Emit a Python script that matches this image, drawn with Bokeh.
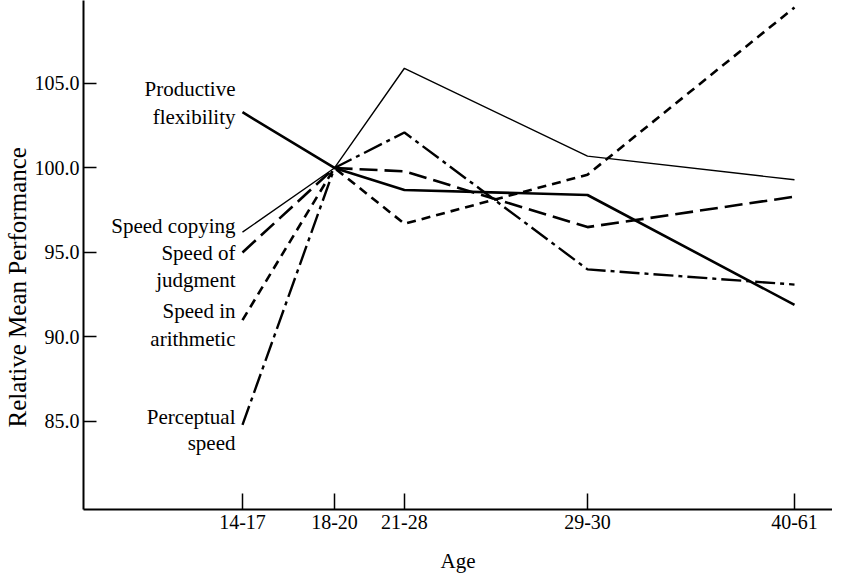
from bokeh.plotting import figure
from bokeh.models import FixedTicker, NumeralTickFormatter, ColumnDataSource, Range1d, Title
from bokeh.core.properties import value
from bokeh.embed import file_html
from bokeh.resources import INLINE

# ---- data ----
age_labels = ["14-17", "18-20", "21-28", "29-30", "40-61"]
age_pos = [1.0, 2.0, 2.76, 4.75, 7.0]

productive_flexibility = [103.3, 100.0, 98.7, 98.4, 91.9]
speed_copying = [96.2, 100.0, 105.9, 100.7, 99.3]
speed_judgment = [95.0, 100.0, 99.8, 96.5, 98.3]
speed_arithmetic = [91.0, 100.0, 96.7, 99.6, 109.5]
perceptual_speed = [84.8, 100.0, 102.1, 94.0, 93.1]

y_ticks = [85, 90, 95, 100, 105]

FONT = "Liberation Serif"

p = figure(frame_width=749, frame_height=509, min_border_left=77, min_border_right=0,
           min_border_top=0, min_border_bottom=58,
           x_range=Range1d(-0.728, 7.413), y_range=Range1d(79.79, 109.91),
           output_backend="svg", toolbar_location=None, tools="")

p.grid.visible = False
p.outline_line_color = None
p.background_fill_color = "white"
p.border_fill_color = "white"

# series
series = [
    (productive_flexibility, "solid", 2.6),
    (speed_copying, "solid", 1.4),
    (speed_judgment, "18 7", 2.6),
    (speed_arithmetic, "9 6", 2.6),
    (perceptual_speed, "20 5 4 5", 2.4),
]
for vals, dash, w in series:
    p.line(age_pos, vals, line_color="black", line_width=w, line_dash=dash)

# labels next to start points
lab_text = ["Productive", "flexibility", "Speed copying", "Speed of", "judgment",
            "Speed in", "arithmetic", "Perceptual", "speed"]
lab_y = [productive_flexibility[0], productive_flexibility[0], speed_copying[0],
         speed_judgment[0], speed_judgment[0], speed_arithmetic[0], speed_arithmetic[0],
         perceptual_speed[0], perceptual_speed[0]]
lab_dy = [-23, 5, -6, 1, 28, -9, 19, -8, 18]
src = ColumnDataSource(dict(x=[age_pos[0]] * len(lab_text), y=lab_y, t=lab_text, dy=lab_dy))
p.text(x="x", y="y", text="t", source=src, x_offset=-7, y_offset="dy",
       text_align="right", text_baseline="middle", text_font=value(FONT),
       text_font_size="21px", text_color="black")

# axes
xa = p.xaxis[0]
xa.ticker = FixedTicker(ticks=age_pos)
xa.major_label_overrides = {k: v for k, v in zip(age_pos, age_labels)}
xa.major_tick_in = 16
xa.major_tick_out = 0
xa.minor_tick_line_color = None
xa.axis_line_width = 2
xa.axis_line_color = "black"
xa.major_tick_line_color = "black"
xa.major_tick_line_width = 1.5
xa.major_label_text_font = FONT
xa.major_label_text_font_size = "20px"
xa.major_label_text_color = "black"
xa.major_label_standoff = 5
xa.axis_label = "Age"
xa.axis_label_text_font = FONT
xa.axis_label_text_font_size = "21px"
xa.axis_label_text_font_style = "normal"
xa.axis_label_text_color = "black"
xa.axis_label_standoff = 17

ya = p.yaxis[0]
ya.ticker = FixedTicker(ticks=y_ticks)
ya.formatter = NumeralTickFormatter(format="0.0")
ya.major_tick_in = 13
ya.major_tick_out = 0
ya.minor_tick_line_color = None
ya.axis_line_width = 2
ya.axis_line_color = "black"
ya.major_tick_line_color = "black"
ya.major_tick_line_width = 1.5
ya.major_label_text_font = FONT
ya.major_label_text_font_size = "20px"
ya.major_label_text_color = "black"
ya.major_label_standoff = 4

ytitle = Title(text="Relative Mean Performance", align="left", offset=82,
               text_font=FONT, text_font_size="25px", text_font_style="normal",
               text_color="black", standoff=2)
p.add_layout(ytitle, "left")

open("out.html", "w").write(file_html(p, INLINE))
